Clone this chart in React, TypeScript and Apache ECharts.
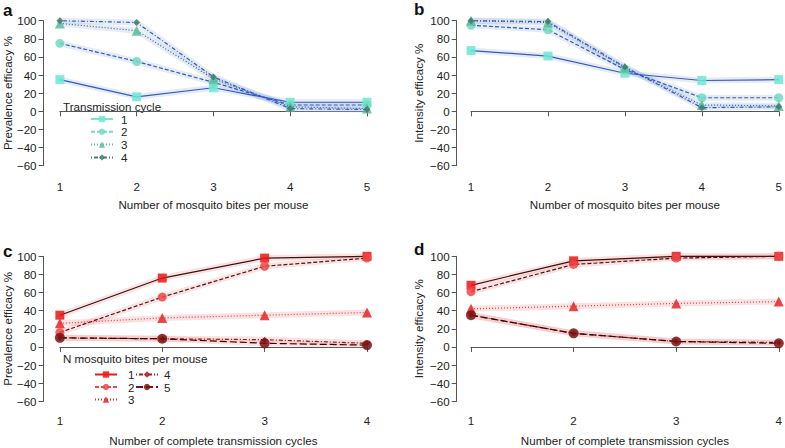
import React, { useEffect, useRef } from "react";
import * as echarts from "echarts";

// ---- data ----
const bitesX = [1, 2, 3, 4, 5];
const cyclesX = [1, 2, 3, 4];
const cycleNames = ["1", "2", "3", "4"];
const biteNames = ["1", "2", "3", "4", "5"];
const yTicks = [-60, -40, -20, 0, 20, 40, 60, 80, 100];

// panel a: prevalence efficacy vs bites, per transmission cycle
const prevA1 = [35, 16, 26, 10, 10];
const prevA2 = [75, 55, 32, 7, 7];
const prevA3 = [97, 89, 36, 5, 3];
const prevA4 = [100, 98, 38, 3, 2];
// panel b: intensity efficacy vs bites
const intB1 = [67, 61, 42, 34, 35];
const intB2 = [95, 90, 46, 15, 15];
const intB3 = [100, 98, 48, 7, 6];
const intB4 = [100, 99, 49, 4, 5];
// panel c: prevalence efficacy vs cycles, per N bites
const prevC1 = [35, 76, 98, 100];
const prevC2 = [16, 55, 89, 98];
const prevC3 = [26, 32, 35, 38];
const prevC4 = [10, 9, 8, 4];
const prevC5 = [10, 9, 4, 2];
// panel d: intensity efficacy vs cycles
const intD1 = [68, 95, 100, 100];
const intD2 = [61, 91, 98, 100];
const intD3 = [42, 45, 48, 50];
const intD4 = [35, 15, 6, 5];
const intD5 = [35, 15, 6, 4];

const FONT = "Liberation Sans, Arial, Helvetica, sans-serif";
const FS = 11.6;
const TXT = "#222";
const AX = "#555";

const tealMarkers = ["#6fe8d4", "#72dcc2", "#5dbb98", "#3f7f6a"];
const tealSymbols = ["rect", "circle", "triangle", "diamond"];
const tealSizes = [9, 9, 10, 7];
const blueLine = "#3456d4";
const blueDash: any[] = ["solid", [4, 2], [1, 2], [1, 2, 4, 2]];

const redMarkers = ["#ee1515", "#f04848", "#e82525", "#b01818", "#7a1212"];
const redSymbols = ["rect", "circle", "triangle", "diamond", "circle"];
const redSizes = [9, 9, 10, 6, 10];
const redLines = ["#3e1010", "#4a1515", "#d84545", "#8a1e1e", "#2a0808"];
const redDash: any[] = ["solid", [4, 2], [1, 2], [1, 2, 4, 2], [7, 3]];

const grids = [
  { left: 58, top: 20.7, width: 309, height: 145 },
  { left: 471, top: 20.7, width: 308, height: 145 },
  { left: 58, top: 256.3, width: 309, height: 145 },
  { left: 471, top: 256.3, width: 308, height: 145 },
];

function xAxisFor(gi: number, max: number, name: string, offset: number, gap: number) {
  return {
    type: "value",
    gridIndex: gi,
    min: 1,
    max,
    interval: 1,
    offset,
    name,
    nameLocation: "middle",
    nameGap: gap,
    nameTextStyle: { color: TXT, fontSize: FS, fontFamily: FONT },
    axisLine: { show: true, lineStyle: { color: AX, width: 1 } },
    axisTick: { show: true, length: 5, lineStyle: { color: AX } },
    axisLabel: { color: TXT, fontSize: FS, fontFamily: FONT, margin: 8 },
    splitLine: { show: false },
  };
}

function yAxisFor(gi: number, name: string, offset: number, gap: number) {
  return {
    type: "value",
    gridIndex: gi,
    min: yTicks[0],
    max: yTicks[yTicks.length - 1],
    interval: yTicks[1] - yTicks[0],
    offset,
    name,
    nameLocation: "middle",
    nameGap: gap,
    nameTextStyle: { color: TXT, fontSize: FS, fontFamily: FONT },
    axisLine: { show: true, lineStyle: { color: AX, width: 1 } },
    axisTick: { show: true, length: 5, lineStyle: { color: AX } },
    axisLabel: {
      color: TXT,
      fontSize: FS,
      fontFamily: FONT,
      margin: 7,
      formatter: (v: number) => (v < 0 ? "\u2212" + Math.abs(v) : String(v)),
    },
    splitLine: { show: false },
  };
}

function panelSeries(
  gi: number,
  prefix: string,
  xs: number[],
  sets: number[][],
  markers: string[],
  symbols: string[],
  sizes: number[],
  lineColors: string[],
  dashes: any[],
  bandColor: string
) {
  const out: any[] = [];
  sets.forEach((vals, i) => {
    const data = xs.map((x, j) => [x, vals[j]]);
    out.push({
      type: "line",
      name: "band" + prefix + i,
      xAxisIndex: gi,
      yAxisIndex: gi,
      data,
      symbol: "none",
      silent: true,
      clip: false,
      z: 1,
      lineStyle: { color: bandColor, width: 6, cap: "round", join: "round" },
    });
  });
  sets.forEach((vals, i) => {
    const data = xs.map((x, j) => [x, vals[j]]);
    out.push({
      type: "line",
      name: prefix + (i + 1),
      xAxisIndex: gi,
      yAxisIndex: gi,
      data,
      symbol: symbols[i],
      symbolSize: sizes[i],
      showAllSymbol: true,
      clip: false,
      z: 3 + i,
      lineStyle: { color: lineColors[i], width: 1.2, type: dashes[i] },
      itemStyle: { color: markers[i], opacity: 0.85 },
    });
  });
  return out;
}

export default function App() {
  const ref = useRef<HTMLDivElement>(null);
  useEffect(() => {
    if (!ref.current) return;
    const chart = echarts.init(ref.current, undefined, { renderer: "svg" });
    const blueLines = [blueLine, blueLine, blueLine, blueLine];
    const tealBand = "rgba(175,200,210,0.32)";
    const redBand = "rgba(240,150,150,0.28)";
    const series = [
      ...panelSeries(0, "a", bitesX, [prevA1, prevA2, prevA3, prevA4], tealMarkers, tealSymbols, tealSizes, blueLines, blueDash, tealBand),
      ...panelSeries(1, "b", bitesX, [intB1, intB2, intB3, intB4], tealMarkers, tealSymbols, tealSizes, blueLines, blueDash, tealBand),
      ...panelSeries(2, "c", cyclesX, [prevC1, prevC2, prevC3, prevC4, prevC5], redMarkers, redSymbols, redSizes, redLines, redDash, redBand),
      ...panelSeries(3, "d", cyclesX, [intD1, intD2, intD3, intD4, intD5], redMarkers, redSymbols, redSizes, redLines, redDash, redBand),
    ];
    const legendCommon = {
      orient: "vertical",
      itemWidth: 22,
      itemHeight: 8,
      padding: 0,
      selectedMode: false,
      formatter: (n: string) => n.slice(1),
    };
    const option: any = {
      animation: false,
      backgroundColor: "#ffffff",
      grid: grids.map((g) => ({ ...g, containLabel: false })),
      xAxis: [
        xAxisFor(0, 5, "Number of mosquito bites per mouse", 6.6, 26),
        xAxisFor(1, 5, "Number of mosquito bites per mouse", 6.6, 26),
        xAxisFor(2, 4, "Number of complete transmission cycles", 5.4, 28),
        xAxisFor(3, 4, "Number of complete transmission cycles", 5.4, 28),
      ],
      yAxis: [
        yAxisFor(0, "Prevalence efficacy %", 16.3, 28),
        yAxisFor(1, "Intensity efficacy %", 14.3, 32),
        yAxisFor(2, "Prevalence efficacy %", 16.3, 28),
        yAxisFor(3, "Intensity efficacy %", 14.3, 32),
      ],
      legend: [
        {
          ...legendCommon,
          left: 90,
          top: 113,
          itemGap: 0.8,
          textStyle: { color: TXT, fontSize: FS, fontFamily: FONT, lineHeight: 12, padding: [0, 0, 0, 3] },
          data: cycleNames.map((n, i) => ({ name: "a" + n, lineStyle: { color: tealMarkers[i] } })),
        },
        {
          ...legendCommon,
          left: 94,
          top: 368.5,
          itemGap: 0.5,
          textStyle: { color: TXT, fontSize: FS, fontFamily: FONT, lineHeight: 11, padding: [0, 0, 0, 6] },
          data: biteNames.slice(0, 3).map((n, i) => ({ name: "c" + n, lineStyle: { color: redMarkers[i] } })),
        },
        {
          ...legendCommon,
          left: 135,
          top: 368.5,
          itemGap: 0.5,
          textStyle: { color: TXT, fontSize: FS, fontFamily: FONT, lineHeight: 11, padding: [0, 0, 0, 1] },
          data: biteNames.slice(3).map((n, i) => ({ name: "c" + n, lineStyle: { color: redMarkers[i + 3] } })),
        },
      ],
      graphic: [
        { type: "text", left: 3, top: 2, style: { text: "a", fontSize: 17, fontWeight: "bold", fontFamily: FONT, fill: "#111" } },
        { type: "text", left: 414, top: 1, style: { text: "b", fontSize: 17, fontWeight: "bold", fontFamily: FONT, fill: "#111" } },
        { type: "text", left: 3, top: 243, style: { text: "c", fontSize: 17, fontWeight: "bold", fontFamily: FONT, fill: "#111" } },
        { type: "text", left: 414, top: 241, style: { text: "d", fontSize: 17, fontWeight: "bold", fontFamily: FONT, fill: "#111" } },
        { type: "text", left: 63, top: 100, style: { text: "Transmission cycle", fontSize: FS, fontFamily: FONT, fill: TXT } },
        { type: "text", left: 63, top: 352.5, style: { text: "N mosquito bites per mouse", fontSize: FS, fontFamily: FONT, fill: TXT } },
      ],
      series,
    };
    chart.setOption(option);
    return () => chart.dispose();
  }, []);
  return (
    <div
      ref={ref}
      style={{ position: "fixed", left: 0, top: 0, width: 785, height: 448, background: "#fff" }}
    />
  );
}
